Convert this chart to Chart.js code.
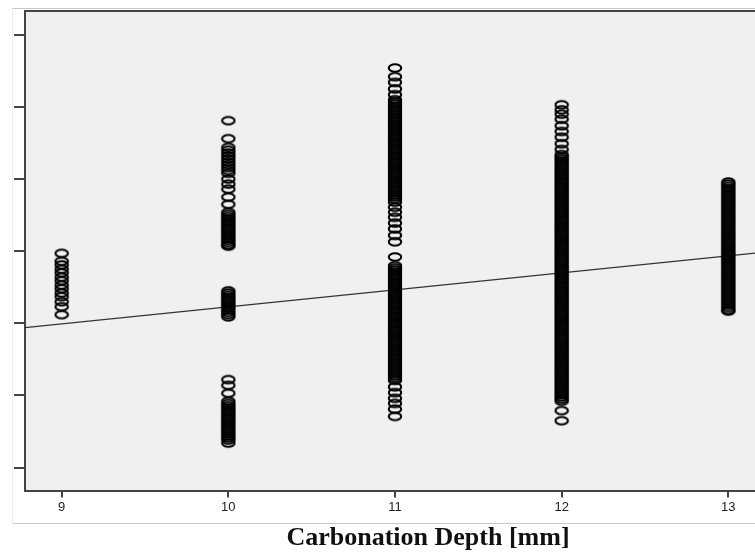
<!DOCTYPE html>
<html>
  <head>
    <meta charset="UTF-8" />
    <title>Carbonation Depth</title>
    <script src="https://cdn.jsdelivr.net/npm/chart.js"></script>
    <style>
      body {
        margin: 0;
        background-color: white;
        overflow: hidden;
      }
      .wrap {
        position: relative;
        width: 755px;
        height: 553px;
      }
      .frame {
        position: absolute;
        left: 12px;
        top: 8px;
        width: 743px;
        height: 514px;
        border-top: 1px solid #c8c8c8;
        border-bottom: 1px solid #c8c8c8;
        border-left: 1px solid #eeeeee;
      }
      .xtitle {
        position: absolute;
        left: 178px;
        width: 500px;
        top: 522px;
        text-align: center;
        font-family: "Liberation Serif", "Times New Roman", serif;
        font-weight: bold;
        font-size: 26px;
        color: #111;
      }
      canvas {
        position: absolute;
        left: 0;
        top: 0;
      }
    </style>
  </head>
  <body>
    <div class="wrap">
      <div class="frame"></div>
      <canvas id="chart" width="755" height="553"></canvas>
      <div class="xtitle">Carbonation Depth [mm]</div>
    </div>

    <script>
      // carbonation depth groups (x) and the values (y)
      const depths = [9, 10, 11, 12, 13];
      const xTicks = [9, 10, 11, 12, 13];
      const yTicks = [10, 20, 30, 40, 50, 60, 70];

      const y9 = [39.7, 38.6, 38.1, 37.5, 37.0, 36.4, 35.9, 35.3, 34.8, 34.2, 33.7, 33.0, 32.3, 31.2];
      const y10 = [
        58.1, 55.6, 54.4, 54.0, 53.6, 53.2, 52.8, 52.4, 52.0, 51.6, 51.2, 50.8,
        50.0, 49.3, 48.6, 47.5, 46.5,
        45.4, 45.1, 44.8, 44.5, 44.2, 43.9, 43.6, 43.3, 43.0, 42.7, 42.4, 42.1, 41.8, 41.5, 41.2, 40.9, 40.7,
        34.5, 34.2, 33.9, 33.6, 33.3, 33.0, 32.7, 32.4, 32.1, 31.8, 31.5, 31.2, 30.9,
        22.2, 21.4, 20.3,
        19.2, 18.9, 18.6, 18.3, 18.0, 17.7, 17.4, 17.1, 16.8, 16.5, 16.2, 15.9, 15.6, 15.3, 15.0, 14.7, 14.4, 14.1, 13.8, 13.4,
      ];
      const y11 = [
        65.4, 64.2, 63.4, 62.5, 61.7,
        61.0, 60.7, 60.4, 60.1, 59.8, 59.5, 59.2, 58.9, 58.6, 58.3, 58.0, 57.7, 57.4, 57.1, 56.8, 56.5,
        56.2, 55.9, 55.6, 55.3, 55.0, 54.7, 54.4, 54.1, 53.8, 53.5, 53.2, 52.9, 52.6, 52.3, 52.0, 51.7,
        51.4, 51.1, 50.8, 50.5, 50.2, 49.9, 49.6, 49.3, 49.0, 48.7, 48.4, 48.1, 47.8, 47.5, 47.2,
        46.8, 46.1, 45.4, 44.7, 43.9, 43.1, 42.2, 41.3,
        39.2,
        38.0, 37.7, 37.4, 37.1, 36.8, 36.5, 36.2, 35.9, 35.6, 35.3, 35.0, 34.7, 34.4, 34.1, 33.8, 33.5,
        33.2, 32.9, 32.6, 32.3, 32.0, 31.7, 31.4, 31.1, 30.8, 30.5, 30.2, 29.9, 29.6, 29.3, 29.0, 28.7,
        28.4, 28.1, 27.8, 27.5, 27.2, 26.9, 26.6, 26.3, 26.0, 25.7, 25.4, 25.1, 24.8, 24.5, 24.2, 23.9,
        23.6, 23.3, 23.0, 22.7, 22.4, 22.1,
        21.2, 20.4, 19.6, 18.9, 18.1, 17.1,
      ];
      const y12 = [
        60.3, 59.6, 59.0, 58.3, 57.4, 56.6, 55.8, 54.9, 54.1,
        53.4, 53.1, 52.8, 52.5, 52.2, 51.9, 51.6, 51.3, 51.0, 50.7, 50.4, 50.1, 49.8, 49.5, 49.2, 48.9,
        48.6, 48.3, 48.0, 47.7, 47.4, 47.1, 46.8, 46.5, 46.2, 45.9, 45.6, 45.3, 45.0, 44.7, 44.4, 44.1,
        43.8, 43.5, 43.2, 42.9, 42.6, 42.3, 42.0, 41.7, 41.4, 41.1, 40.8, 40.5, 40.2, 39.9, 39.6, 39.3,
        39.0, 38.7, 38.4, 38.1, 37.8, 37.5, 37.2, 36.9, 36.6, 36.3, 36.0, 35.7, 35.4, 35.1, 34.8, 34.5,
        34.2, 33.9, 33.6, 33.3, 33.0, 32.7, 32.4, 32.1, 31.8, 31.5, 31.2, 30.9, 30.6, 30.3, 30.0, 29.7,
        29.4, 29.1, 28.8, 28.5, 28.2, 27.9, 27.6, 27.3, 27.0, 26.7, 26.4, 26.1, 25.8, 25.5, 25.2, 24.9,
        24.6, 24.3, 24.0, 23.7, 23.4, 23.1, 22.8, 22.5, 22.2, 21.9, 21.6, 21.3, 21.0, 20.7, 20.4, 20.1,
        19.8, 19.5, 19.2,
        17.9, 16.5,
      ];
      const y13 = [
        49.6, 49.3, 49.0, 48.7, 48.4, 48.1, 47.8, 47.5, 47.2, 46.9, 46.6, 46.3, 46.0, 45.7, 45.4, 45.1,
        44.8, 44.5, 44.2, 43.9, 43.6, 43.3, 43.0, 42.7, 42.4, 42.1, 41.8, 41.5, 41.2, 40.9, 40.6, 40.3,
        40.0, 39.7, 39.4, 39.1, 38.8, 38.5, 38.2, 37.9, 37.6, 37.3, 37.0, 36.7, 36.4, 36.1, 35.8, 35.5,
        35.2, 34.9, 34.6, 34.3, 34.0, 33.7, 33.4, 33.1, 32.8, 32.5, 32.2, 31.9, 31.7,
      ];

      // fitted line, end points at the axis edges
      const fitX = [8.78, 13.16];
      const fitY = [29.4, 39.74];

      const groups = [y9, y10, y11, y12, y13];
      const points = [];
      groups.forEach((vals, i) => {
        vals.forEach((v) => points.push({ x: depths[i], y: v }));
      });

      // open ellipse marker like the SPSS scatter
      const marker = document.createElement("canvas");
      marker.width = 16;
      marker.height = 12;
      const mctx = marker.getContext("2d");
      mctx.strokeStyle = "#000";
      mctx.lineWidth = 2.1;
      mctx.beginPath();
      mctx.ellipse(8, 6, 6.2, 3.8, 0, 0, Math.PI * 2);
      mctx.stroke();

      const plotBg = {
        id: "plotBg",
        beforeDraw(chart) {
          const a = chart.chartArea;
          const ctx = chart.ctx;
          ctx.save();
          ctx.fillStyle = "#f0f0f0";
          ctx.fillRect(a.left, a.top, a.right - a.left, a.bottom - a.top);
          ctx.restore();
        },
        afterDraw(chart) {
          const a = chart.chartArea;
          const ctx = chart.ctx;
          ctx.save();
          ctx.strokeStyle = "#444";
          ctx.lineWidth = 2;
          ctx.beginPath();
          ctx.moveTo(a.left, a.top);
          ctx.lineTo(a.right, a.top);
          ctx.stroke();
          ctx.restore();
        },
      };

      const chart = new Chart(document.getElementById("chart"), {
        type: "scatter",
        data: {
          datasets: [
            {
              label: "Observed",
              data: points,
              pointStyle: marker,
              pointRadius: 6,
            },
            {
              label: "Fit",
              type: "line",
              data: fitX.map((x, i) => ({ x: x, y: fitY[i] })),
              borderColor: "#333",
              borderWidth: 1.2,
              pointRadius: 0,
              fill: false,
            },
          ],
        },
        options: {
          responsive: false,
          animation: false,
          layout: {
            autoPadding: false,
            padding: { left: 14, top: 11, right: 0, bottom: 36 },
          },
          plugins: {
            legend: { display: false },
            tooltip: { enabled: false },
          },
          scales: {
            x: {
              type: "linear",
              min: fitX[0],
              max: fitX[1],
              afterBuildTicks: (s) => {
                s.ticks = xTicks.map((v) => ({ value: v }));
              },
              grid: {
                drawOnChartArea: false,
                drawTicks: true,
                tickLength: 6,
                color: "#444",
                lineWidth: 2,
              },
              border: { color: "#444", width: 2 },
              ticks: {
                color: "#222",
                padding: 2,
                font: { family: "Liberation Sans", size: 13 },
              },
            },
            y: {
              min: 6.7,
              max: 73.3,
              afterBuildTicks: (s) => {
                s.ticks = yTicks.map((v) => ({ value: v }));
              },
              grid: {
                drawOnChartArea: false,
                drawTicks: true,
                tickLength: 11,
                color: "#444",
                lineWidth: 2,
              },
              border: { color: "#444", width: 2 },
              ticks: { display: false },
            },
          },
        },
        plugins: [plotBg],
      });
    </script>
  </body>
</html>
